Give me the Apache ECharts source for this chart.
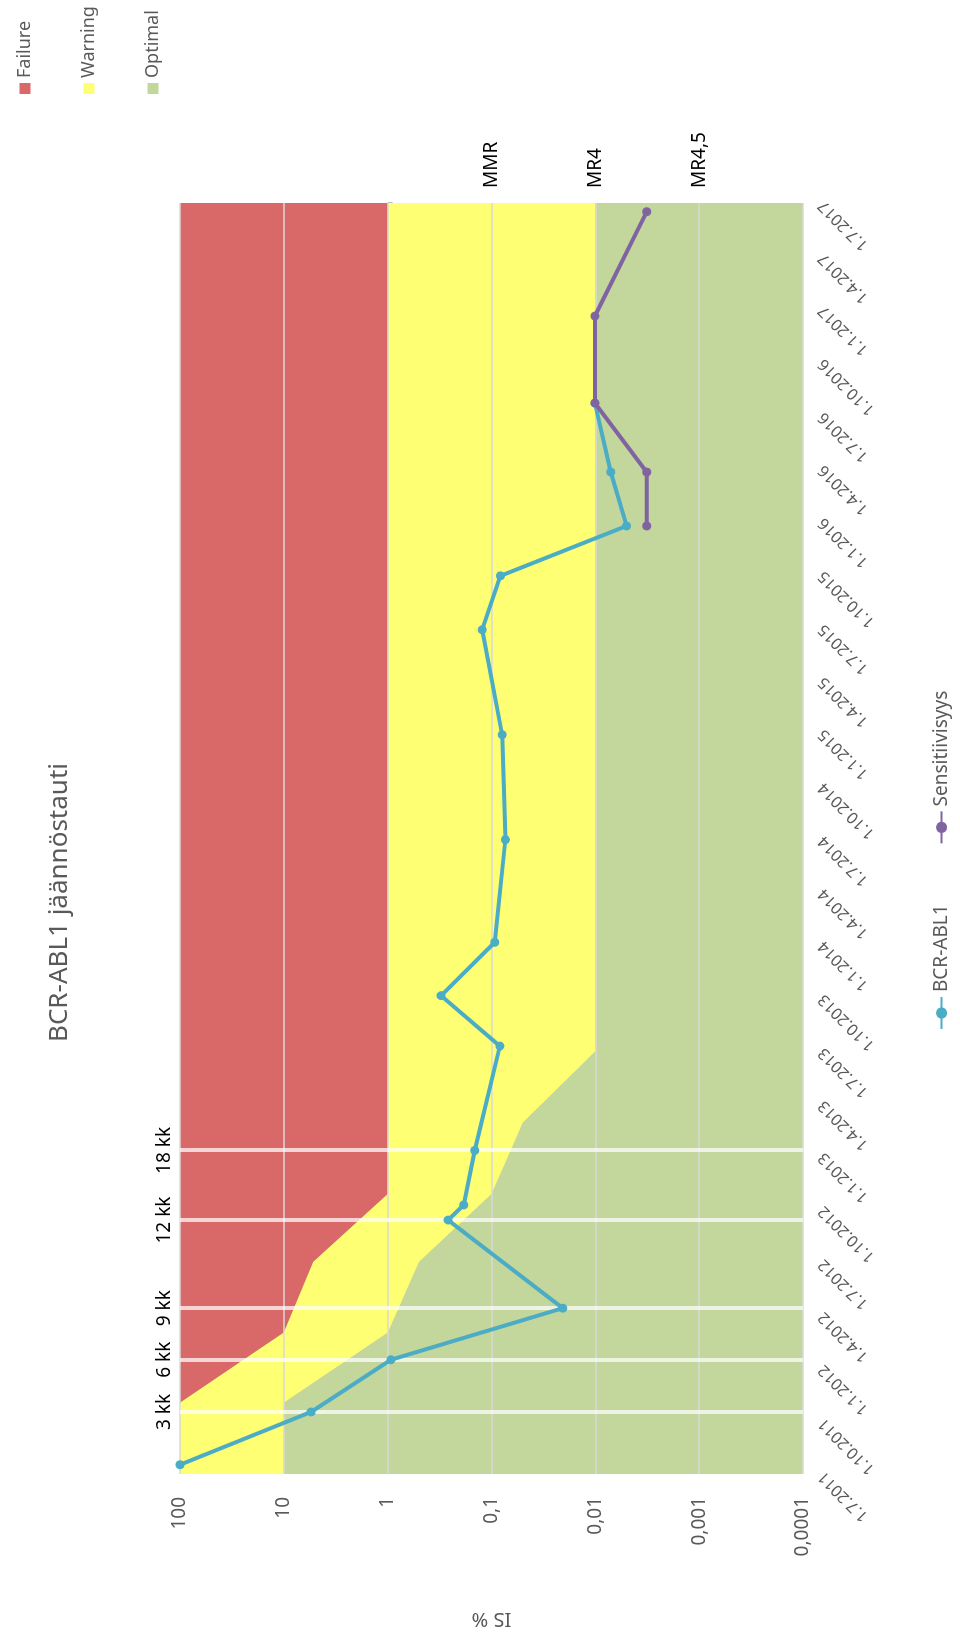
<!DOCTYPE html>
<html>
<head>
<meta charset="utf-8">
<script src="https://cdn.jsdelivr.net/npm/echarts@6/dist/echarts.min.js"></script>
<style>
html, body { margin: 0; padding: 0; width: 960px; height: 1637px; overflow: hidden; background: #fff; }
/* kaavio piirretään vaakana ja käännetään pystyyn */
#chart {
  position: absolute; left: 0; top: 0;
  width: 1637px; height: 960px;
  transform-origin: 0 0;
  transform: translate(0, 1637px) rotate(-90deg);
}
</style>
</head>
<body>
<div id="chart"></div>
<script>
// BCR-ABL1 mittaukset (% IS)
const bcrDates = ['2011-07-17', '2011-10-16', '2012-01-14', '2012-04-12', '2012-09-11', '2012-10-07',
  '2013-01-09', '2013-07-08', '2013-10-03', '2014-01-03', '2014-06-29', '2014-12-27',
  '2015-06-26', '2015-09-27', '2015-12-22', '2016-03-24', '2016-07-21']
const bcrValues = [100, 5.46, 0.93, 0.0206, 0.262, 0.185, 0.145, 0.083, 0.306, 0.093, 0.0735, 0.079,
  0.123, 0.082, 0.005, 0.0071, 0.0101]

// herkkyys
const sensDates = ['2015-12-22', '2016-03-24', '2016-07-21', '2016-12-18', '2017-06-16']
const sensValues = [0.0032, 0.0032, 0.0101, 0.0101, 0.0032]

// vasteen rajat
const failureDates = ['2011-11-01', '2012-03-01', '2012-07-01', '2012-10-26', '2017-07-01']
const failureValues = [100, 10, 5.2, 1, 1]
const optimalDates = ['2011-07-01', '2011-11-01', '2012-03-01', '2012-07-01', '2012-10-26',
  '2013-02-26', '2013-06-29', '2017-07-01']
const optimalValues = [10, 10, 1, 0.5, 0.1, 0.05, 0.01, 0.01]
const warningDates = ['2011-07-01', '2017-07-01']
const warningValues = [100, 100]

// seurantakohdat ja vastetasot
const kkDates = ['2011-10-16', '2012-01-14', '2012-04-12', '2012-09-11', '2013-01-09']
const kkLabels = ['3 kk', '6 kk', '9 kk', '12 kk', '18 kk']
const gridValues = [100, 10, 1, 0.1, 0.01, 0.001, 0.0001]
const levelValues = [0.1, 0.01, 0.001]
const levelLabels = ['MMR', 'MR4', 'MR4,5']

const quarterTicks = ['2011-07-01', '2011-10-01', '2012-01-01', '2012-04-01', '2012-07-01',
  '2012-10-01', '2013-01-01', '2013-04-01', '2013-07-01', '2013-10-01', '2014-01-01',
  '2014-04-01', '2014-07-01', '2014-10-01', '2015-01-01', '2015-04-01', '2015-07-01',
  '2015-10-01', '2016-01-01', '2016-04-01', '2016-07-01', '2016-10-01', '2017-01-01',
  '2017-04-01', '2017-07-01']

const ts = s => Date.parse(s)
const pairs = (d, v) => d.map((x, i) => [ts(x), v[i]])
const fmtDate = val => {
  const d = new Date(val)
  return d.getUTCDate() + '.' + (d.getUTCMonth() + 1) + '.' + d.getUTCFullYear()
}

const gridTop = 180
const gridH = 623
const yMin = 0.0001
const yMax = 100
// aika-akseli leikkaa arvossa 1
const oneOffset = -gridH * (Math.log10(1) - Math.log10(yMin)) / (Math.log10(yMax) - Math.log10(yMin))

const FONT = 'Noto Sans'
const chart = echarts.init(document.getElementById('chart'))

const band = (name, color, d, v, origin) => ({
  name: name,
  type: 'line',
  color: color,
  data: pairs(d, v),
  symbol: 'none',
  silent: true,
  z: 1,
  lineStyle: { width: 0, opacity: 0 },
  areaStyle: { color: color, opacity: 1, origin: origin }
})

chart.setOption({
  animation: false,
  textStyle: { fontFamily: FONT },
  title: {
    text: 'BCR-ABL1 jäännöstauti',
    left: 590,
    top: 42,
    textStyle: { fontFamily: FONT, fontSize: 26, fontWeight: 'normal', color: '#595959' }
  },
  legend: [
    {
      data: ['Failure', 'Warning', 'Optimal'],
      orient: 'vertical',
      left: 1538,
      top: 10,
      icon: 'rect',
      itemWidth: 11,
      itemHeight: 11,
      itemGap: 44,
      selectedMode: false,
      textStyle: { fontFamily: FONT, fontSize: 18, lineHeight: 20, color: '#595959' }
    },
    {
      data: ['BCR-ABL1', 'Sensitiivisyys'],
      left: 602,
      top: 927,
      itemWidth: 32,
      itemHeight: 14,
      itemGap: 60,
      selectedMode: false,
      textStyle: { fontFamily: FONT, fontSize: 19, color: '#595959' }
    }
  ],
  grid: {
    left: 157,
    top: gridTop,
    width: 1277,
    height: gridH
  },
  xAxis: [
    {
      type: 'value',
      position: 'bottom',
      min: ts(quarterTicks[0]),
      max: ts(quarterTicks[quarterTicks.length - 1]),
      axisLine: { show: false },
      axisTick: { show: false },
      splitLine: { show: false },
      axisLabel: {
        customValues: quarterTicks.map(ts),
        rotate: 45,
        margin: 18,
        fontSize: 16,
        color: '#595959',
        formatter: fmtDate
      }
    },
    {
      type: 'value',
      position: 'bottom',
      offset: oneOffset,
      min: ts(quarterTicks[0]),
      max: ts(quarterTicks[quarterTicks.length - 1]),
      axisLine: { show: true, lineStyle: { color: '#d9d9d9', width: 1.5 } },
      axisTick: { show: true, length: 5, customValues: quarterTicks.map(ts), lineStyle: { color: '#bfbfbf' } },
      axisLabel: { show: false },
      splitLine: { show: false }
    }
  ],
  yAxis: {
    type: 'log',
    logBase: 10,
    min: yMin,
    max: yMax,
    splitNumber: 6,
    name: 'IS %',
    nameLocation: 'middle',
    nameGap: 135,
    nameTextStyle: { fontFamily: FONT, fontSize: 20, color: '#595959' },
    axisLine: { show: false },
    axisTick: { show: false },
    splitLine: { show: false },
    axisLabel: {
      margin: 23,
      fontSize: 19,
      color: '#595959',
      formatter: v => String(v).replace('.', ',')
    }
  },
  series: [
    band('Warning', '#ffff73', warningDates, warningValues, yMin),
    band('Failure', '#d96868', failureDates, failureValues, yMax),
    band('Optimal', '#c3d69b', optimalDates, optimalValues, yMin),
    {
      // arvoviivat ja vastetasot
      name: 'tasot',
      type: 'line',
      data: [],
      z: 3,
      silent: true,
      markLine: {
        symbol: 'none',
        silent: true,
        precision: 8,
        lineStyle: { color: '#d9d9d9', width: 1.5, type: 'solid' },
        label: { show: false },
        data: gridValues.map(v => {
          const k = levelValues.indexOf(v)
          return {
            yAxis: v,
            label: k < 0 ? { show: false } : {
              show: true,
              position: 'end',
              distance: 15,
              formatter: levelLabels[k],
              fontFamily: FONT,
              fontSize: 19,
              color: '#000'
            }
          }
        })
      }
    },
    {
      // seurantakuukaudet
      name: 'kk',
      type: 'line',
      data: [],
      z: 4,
      silent: true,
      markLine: {
        symbol: 'none',
        silent: true,
        lineStyle: { color: 'rgba(255,255,255,0.72)', width: 4, type: 'solid' },
        label: { show: true, position: 'end', distance: 6, fontFamily: FONT, fontSize: 19, color: '#000' },
        data: kkDates.map((d, i) => ({ xAxis: ts(d), label: { formatter: kkLabels[i] } }))
      }
    },
    {
      name: 'BCR-ABL1',
      type: 'line',
      color: '#4bacc6',
      data: pairs(bcrDates, bcrValues),
      symbol: 'circle',
      symbolSize: 9,
      z: 5,
      lineStyle: { width: 4 }
    },
    {
      name: 'Sensitiivisyys',
      type: 'line',
      color: '#8064a2',
      data: pairs(sensDates, sensValues),
      symbol: 'circle',
      symbolSize: 9,
      z: 6,
      lineStyle: { width: 4 }
    }
  ]
})
</script>
</body>
</html>
